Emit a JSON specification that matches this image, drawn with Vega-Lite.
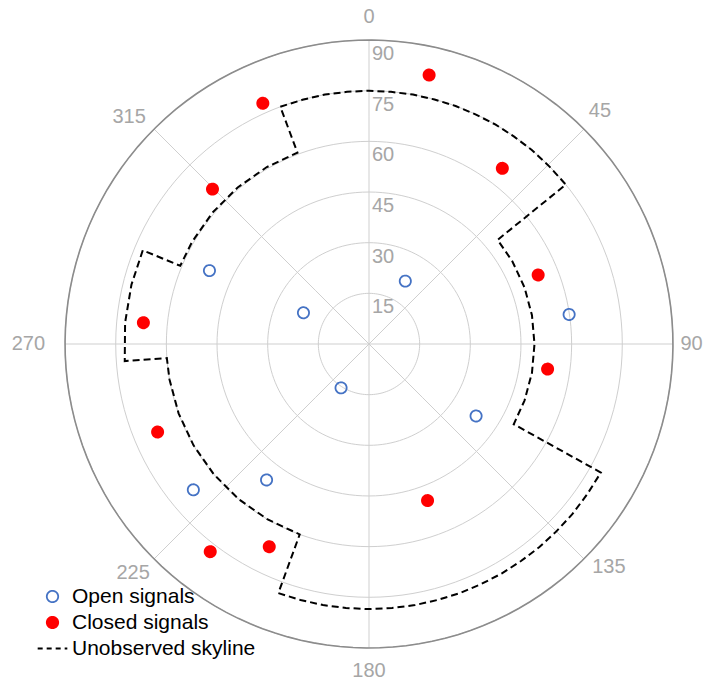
{
  "$schema": "https://vega.github.io/schema/vega-lite/v6.json",
  "width": 707,
  "height": 680,
  "autosize": "none",
  "padding": 0,
  "background": "white",
  "config": {
    "view": {"stroke": null},
    "font": "Liberation Sans",
    "legend": {
      "orient": "none", "legendX": 42, "legendY": 586,
      "labelFontSize": 21, "labelColor": "#000000", "labelFont": "Liberation Sans", "labelLimit": 400,
      "rowPadding": 4, "labelOffset": 9, "symbolSize": 130, "symbolStrokeWidth": 1.8
    }
  },
  "projection": {"type": "azimuthalEquidistant", "rotate": [180, -90, 0], "reflectX": true, "scale": 193.5, "translate": [369, 344]},
  "layer": [
    {
      "data": {"graticule": {"extent": [[-180, 0], [180, 90]], "step": [45, 15]}},
      "mark": {"type": "geoshape", "filled": false, "stroke": "#cfcfcf", "strokeWidth": 1}
    },
    {
      "data": {"graticule": {"extent": [[0.5, 0], [360.5, 0.1]], "step": [400, 90]}},
      "mark": {"type": "geoshape", "filled": false, "stroke": "#8c8c8c", "strokeWidth": 1.6}
    },
    {
      "data": {
        "values": {
          "type": "FeatureCollection",
          "features": [
            {
              "type": "Feature",
              "properties": {"name": "Unobserved skyline"},
              "geometry": {
                "type": "LineString",
                "coordinates": [
                  [339.5, 15], [350, 15], [360, 15], [10, 15], [20, 15], [30, 15], [40, 15], [51, 15],
                  [51, 41], [60, 41], [70, 41], [80, 41], [90, 41], [100, 41], [110, 41], [119, 41],
                  [119, 11.5], [130, 11.5], [140, 11.5], [150, 11.5], [160, 11.5], [170, 11.5], [180, 11.5], [190, 11.5], [200, 11.5],
                  [200, 30], [210, 30], [220, 30], [230, 30], [240, 30], [250, 30], [260, 30], [266, 30],
                  [266, 17.5], [275, 17.5], [284, 17.5], [292.5, 17.5],
                  [292.5, 29.5], [300, 29.5], [310, 29.5], [320, 29.5], [330, 29.5], [339.5, 29.5],
                  [339.5, 15]
                ]
              }
            }
          ]
        },
        "format": {"type": "json", "property": "features"}
      },
      "mark": {"type": "geoshape", "filled": false, "stroke": "#000000", "strokeWidth": 2, "strokeDash": [7, 4]}
    },
    {
      "data": {
        "values": [
          {"status": "Closed signals", "azimuth": 12.6, "elevation": 8.4},
          {"status": "Closed signals", "azimuth": 336.2, "elevation": 12.1},
          {"status": "Closed signals", "azimuth": 37.2, "elevation": 24.7},
          {"status": "Closed signals", "azimuth": 314.7, "elevation": 24.8},
          {"status": "Closed signals", "azimuth": 67.8, "elevation": 35.9},
          {"status": "Closed signals", "azimuth": 275.4, "elevation": 22.9},
          {"status": "Closed signals", "azimuth": 98.0, "elevation": 36.6},
          {"status": "Closed signals", "azimuth": 247.4, "elevation": 22.2},
          {"status": "Closed signals", "azimuth": 159.5, "elevation": 40.5},
          {"status": "Closed signals", "azimuth": 217.4, "elevation": 12.6},
          {"status": "Closed signals", "azimuth": 206.2, "elevation": 23.1},
          {"status": "Open signals", "azimuth": 30.0, "elevation": 68.5},
          {"status": "Open signals", "azimuth": 295.5, "elevation": 68.5},
          {"status": "Open signals", "azimuth": 294.7, "elevation": 38.0},
          {"status": "Open signals", "azimuth": 81.6, "elevation": 30.1},
          {"status": "Open signals", "azimuth": 212.5, "elevation": 74.6},
          {"status": "Open signals", "azimuth": 123.9, "elevation": 51.8},
          {"status": "Open signals", "azimuth": 217.0, "elevation": 39.6},
          {"status": "Open signals", "azimuth": 230.3, "elevation": 22.4}
        ]
      },
      "mark": {"type": "point", "filled": true, "strokeWidth": 1.8, "opacity": 1, "size": 125},
      "encoding": {
        "longitude": {"field": "azimuth", "type": "quantitative"},
        "latitude": {"field": "elevation", "type": "quantitative"},
        "fill": {
          "field": "status", "type": "nominal",
          "scale": {"domain": ["Open signals", "Closed signals", "Unobserved skyline"], "range": ["transparent", "#ff0000", "transparent"]},
          "legend": {"title": null}
        },
        "stroke": {
          "field": "status", "type": "nominal",
          "scale": {"domain": ["Open signals", "Closed signals", "Unobserved skyline"], "range": ["#4472c4", "#ff0000", "#000000"]},
          "legend": {"title": null}
        },
        "shape": {
          "field": "status", "type": "nominal",
          "scale": {"domain": ["Open signals", "Closed signals", "Unobserved skyline"], "range": ["circle", "circle", "M-2.6,0H2.6"]},
          "legend": {"title": null}
        },
        "strokeDash": {
          "field": "status", "type": "nominal",
          "scale": {"domain": ["Open signals", "Closed signals", "Unobserved skyline"], "range": [[1, 0], [1, 0], [5, 4]]},
          "legend": {"title": null}
        }
      }
    },
    {
      "data": {
        "values": [
          {"zenith": "15", "elevation": 75},
          {"zenith": "30", "elevation": 60},
          {"zenith": "45", "elevation": 45},
          {"zenith": "60", "elevation": 30},
          {"zenith": "75", "elevation": 15},
          {"zenith": "90", "elevation": 0}
        ]
      },
      "mark": {"type": "text", "align": "left", "baseline": "middle", "dx": 3, "dy": 14, "fontSize": 20, "fill": "#a6a6a6"},
      "encoding": {
        "longitude": {"datum": 0},
        "latitude": {"field": "elevation", "type": "quantitative"},
        "text": {"field": "zenith"}
      }
    },
    {
      "data": {
        "values": [
          {"azimuth": 0, "label": "0"},
          {"azimuth": 45, "label": "45"},
          {"azimuth": 90, "label": "90"},
          {"azimuth": 135, "label": "135"},
          {"azimuth": 180, "label": "180"},
          {"azimuth": 225, "label": "225"},
          {"azimuth": 270, "label": "270"},
          {"azimuth": 315, "label": "315"}
        ]
      },
      "mark": {
        "type": "text", "fontSize": 20, "fill": "#a6a6a6", "align": "center", "baseline": "middle",
        "dx": {"expr": "datum.azimuth == 270 ? -14 : (datum.azimuth == 90 ? -4 : (datum.azimuth == 135 ? 9 : (datum.azimuth == 225 ? -5 : (datum.azimuth == 315 ? -9 : 0))))"},
        "dy": {"expr": "datum.azimuth == 135 ? -8 : (datum.azimuth == 225 ? -2 : (datum.azimuth == 315 ? 4 : (datum.azimuth == 45 ? -2 : 0)))"}
      },
      "encoding": {
        "longitude": {"field": "azimuth", "type": "quantitative"},
        "latitude": {"datum": -6.7},
        "text": {"field": "label"}
      }
    }
  ]
}
